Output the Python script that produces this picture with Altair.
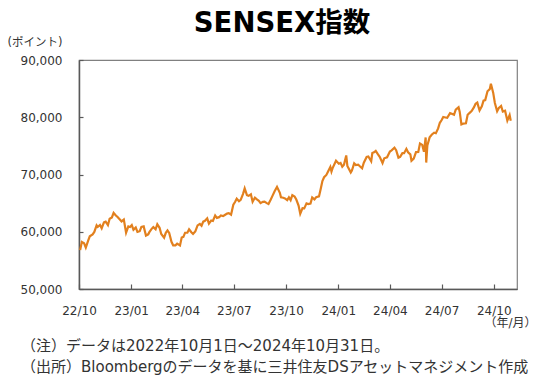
import altair as alt
import pandas as pd

# ---- data ----
dates = [
    "2022-10-03","2022-10-06","2022-10-10","2022-10-13","2022-10-17","2022-10-20","2022-10-25","2022-10-28",
    "2022-11-01","2022-11-03","2022-11-07","2022-11-10","2022-11-14","2022-11-17","2022-11-21","2022-11-24",
    "2022-11-28","2022-12-01","2022-12-05","2022-12-08","2022-12-12","2022-12-15","2022-12-19","2022-12-23",
    "2022-12-27","2022-12-30","2023-01-02","2023-01-05","2023-01-09","2023-01-12","2023-01-16","2023-01-19",
    "2023-01-23","2023-01-27","2023-01-31","2023-02-02","2023-02-06","2023-02-09","2023-02-13","2023-02-16",
    "2023-02-20","2023-02-23","2023-02-28","2023-03-03","2023-03-06","2023-03-09","2023-03-13","2023-03-16",
    "2023-03-20","2023-03-23","2023-03-28","2023-03-31","2023-04-03","2023-04-06","2023-04-10","2023-04-13",
    "2023-04-17","2023-04-20","2023-04-24","2023-04-28","2023-05-02","2023-05-05","2023-05-08","2023-05-11",
    "2023-05-15","2023-05-18","2023-05-22","2023-05-25","2023-05-29","2023-06-01","2023-06-05","2023-06-08",
    "2023-06-12","2023-06-15","2023-06-19","2023-06-22","2023-06-26","2023-06-30","2023-07-03","2023-07-06",
    "2023-07-10","2023-07-13","2023-07-17","2023-07-20","2023-07-24","2023-07-27","2023-07-31","2023-08-03",
    "2023-08-07","2023-08-10","2023-08-14","2023-08-17","2023-08-21","2023-08-24","2023-08-28","2023-08-31",
    "2023-09-04","2023-09-07","2023-09-11","2023-09-15","2023-09-20","2023-09-22","2023-09-26","2023-09-29",
    "2023-10-03","2023-10-06","2023-10-09","2023-10-12","2023-10-16","2023-10-19","2023-10-23","2023-10-26",
    "2023-10-30","2023-11-02","2023-11-06","2023-11-09","2023-11-13","2023-11-16","2023-11-20","2023-11-23",
    "2023-11-28","2023-12-01","2023-12-04","2023-12-07","2023-12-11","2023-12-14","2023-12-18","2023-12-20",
    "2023-12-22","2023-12-28","2024-01-02","2024-01-05","2024-01-08","2024-01-11","2024-01-15","2024-01-17",
    "2024-01-23","2024-01-25","2024-01-29","2024-02-01","2024-02-05","2024-02-08","2024-02-12","2024-02-15",
    "2024-02-20","2024-02-23","2024-02-28","2024-03-01","2024-03-04","2024-03-07","2024-03-11","2024-03-14",
    "2024-03-19","2024-03-22","2024-03-27","2024-04-01","2024-04-04","2024-04-09","2024-04-12","2024-04-16",
    "2024-04-19","2024-04-23","2024-04-26","2024-04-30","2024-05-03","2024-05-07","2024-05-09","2024-05-13",
    "2024-05-17","2024-05-21","2024-05-24","2024-05-28","2024-05-31","2024-06-03","2024-06-04","2024-06-06",
    "2024-06-10","2024-06-14","2024-06-18","2024-06-21","2024-06-25","2024-06-28","2024-07-01","2024-07-04",
    "2024-07-08","2024-07-11","2024-07-16","2024-07-19","2024-07-23","2024-07-26","2024-07-31","2024-08-02",
    "2024-08-05","2024-08-08","2024-08-13","2024-08-16","2024-08-20","2024-08-23","2024-08-27","2024-08-30",
    "2024-09-02","2024-09-06","2024-09-10","2024-09-13","2024-09-16","2024-09-20","2024-09-24","2024-09-26",
    "2024-09-30","2024-10-03","2024-10-07","2024-10-10","2024-10-14","2024-10-17","2024-10-21","2024-10-25",
    "2024-10-29","2024-10-31",
]
values = [
    56788,58222,57991,57235,58410,59203,59544,59960,
    61121,60836,61185,60614,61624,61751,61145,62272,
    62504,63284,62835,62571,62131,61799,62130,59845,
    60927,60841,61168,60353,60747,59958,60092,60858,
    60941,59331,59550,59932,60507,60806,60432,61320,
    60691,59605,58962,59809,60224,59806,58238,57635,
    57629,57925,57614,58992,59106,59833,59847,60431,
    59911,59633,60056,61112,61354,61055,61764,61904,
    62346,61432,61963,61873,62846,62428,62547,62848,
    62725,62918,63168,63238,62970,64719,65205,65786,
    65344,65559,66590,67572,66385,66266,66528,65240,
    65954,65688,65402,64999,65217,65252,64997,64831,
    65628,66265,67127,67839,66801,66009,65945,65828,
    65512,65996,65513,66408,66167,65629,64572,63148,
    64113,64081,64959,64832,64934,65982,65655,66018,
    66174,67481,68865,69522,69929,70514,71315,70506,
    71106,72410,71892,72026,71355,71721,73328,71501,
    70370,70701,71942,71645,71731,71428,71072,72050,
    73058,73142,72305,73745,73872,74119,73503,73097,
    72012,72832,72996,74015,74227,74684,74245,72944,
    73088,73738,73730,74483,73878,73511,72404,72776,
    73917,73953,75410,75170,73961,76469,72079,75075,
    76490,76993,77301,77210,78053,79033,79476,80050,
    79960,79898,80716,80605,80429,81333,81741,80982,
    78759,78886,78956,80437,80803,81086,81712,82366,
    82560,81184,81921,82891,82989,84544,84914,85836,
    84300,82497,81050,81611,81973,81007,81151,79402,
    80369,79389,
]
tick_dates = ["2022-10-01","2023-01-01","2023-04-01","2023-07-01","2023-10-01",
              "2024-01-01","2024-04-01","2024-07-01","2024-10-01"]
tick_labels = ["22/10","23/01","23/04","23/07","23/10","24/01","24/04","24/07","24/10"]
y_ticks = [50000, 60000, 70000, 80000, 90000]
x_domain = ["2022-10-01", "2024-11-11"]

title_text = "SENSEX指数"
y_unit = "(ポイント)"
x_unit = "（年/月）"
note_lines = ["（注）データは2022年10月1日～2024年10月31日。",
              "（出所）Bloombergのデータを基に三井住友DSアセットマネジメント作成"]

df = pd.DataFrame({"date": dates, "value": values})

def ms(d):
    return int(pd.Timestamp(d, tz="UTC").value // 10**6)

tick_ms = [ms(d) for d in tick_dates]
label_map = "{" + ",".join(f"'{d}':'{l}'" for d, l in zip(tick_dates, tick_labels)) + "}"
label_expr = f"{label_map}[utcFormat(datum.value, '%Y-%m-%d')]"

FONT = "DejaVu Sans, Noto Sans CJK JP"
TXT = "#333333"
AX = "#595959"

line = alt.Chart(df).mark_line(color="#E2801E", strokeWidth=2.2).encode(
    x=alt.X("date:T",
            scale=alt.Scale(type="utc", domain=[ms(x_domain[0]), ms(x_domain[1])]),
            axis=alt.Axis(values=tick_ms, labelExpr=label_expr,
                          title=None, grid=False, tickSize=alt.ExprRef("-5"),
                          labelPadding=21, labelFontSize=12, labelFont=FONT,
                          labelColor=TXT, domainColor=AX, tickColor=AX,
                          domainWidth=1.5, tickWidth=1.2, labelFlush=False)),
    y=alt.Y("value:Q",
            scale=alt.Scale(domain=[50000, 90000], nice=False, zero=False),
            axis=alt.Axis(values=y_ticks, format=",d", title=None, grid=False,
                          tickSize=alt.ExprRef("-4"), labelPadding=21,
                          labelFontSize=12, labelFont=FONT, labelColor=TXT,
                          domainColor=AX, tickColor=AX, domainWidth=1.5, tickWidth=1.2)),
)

def text_layer(txt, x, y, size, align="left", weight="normal", baseline="middle", color=TXT):
    return alt.Chart(pd.DataFrame({"t": [txt]})).mark_text(
        align=align, baseline=baseline, fontSize=size, font=FONT,
        fontWeight=weight, color=color,
    ).encode(x=alt.value(x), y=alt.value(y), text="t:N")

layers = [
    line,
    text_layer(title_text, 203, -28, 27.5, align="center", weight="bold",
               baseline="alphabetic", color="#000000"),
    text_layer(y_unit, -71.5, -17.5, 11.5),
    text_layer(x_unit, 431.5, 263, 12, align="center"),
    text_layer(note_lines[0], -58, 286, 15),
    text_layer(note_lines[1], -58, 306.5, 15),
]

chart = alt.layer(*layers).properties(
    width=438, height=229,
    autosize=alt.AutoSizeParams(type="none"),
    padding={"left": 71, "top": 52, "right": 25, "bottom": 93},
    background="white",
).configure_view(stroke="#808080", strokeWidth=1.2)

chart.save("out.html", embed_options={"renderer": "svg", "actions": False})
